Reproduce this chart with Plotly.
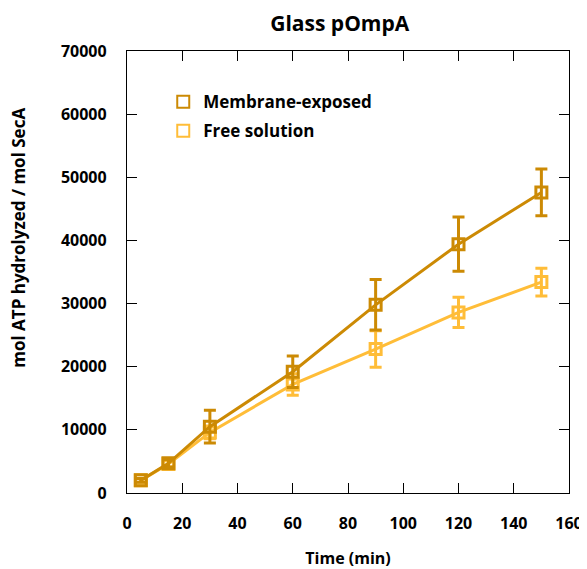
import plotly.graph_objects as go

time_min = [5, 15, 30, 60, 90, 120, 150]
membrane = [2000, 4700, 10500, 19200, 29800, 39400, 47600]
membrane_err = [300, 600, 2600, 2500, 4000, 4300, 3700]
free = [2000, 4600, 9600, 17200, 22800, 28600, 33400]
free_err = [300, 500, 1000, 1700, 2900, 2400, 2200]

c_mem = "#CC8A04"
c_free = "#FFBD38"
font = "Open Sans"

fig = go.Figure()
for name, y, e, c in [("Free solution", free, free_err, c_free),
                      ("Membrane-exposed", membrane, membrane_err, c_mem)]:
    fig.add_trace(go.Scatter(
        x=time_min, y=y, mode="lines+markers", name=name, showlegend=False,
        line=dict(color=c, width=3),
        marker=dict(symbol="square-open", size=11, color=c, line=dict(width=3)),
        error_y=dict(type="data", array=e, color=c, thickness=3, width=6),
    ))
for i, (name, c) in enumerate([("Membrane-exposed", c_mem), ("Free solution", c_free)]):
    fig.add_trace(go.Scatter(
        x=[None], y=[None], mode="markers", name=name, legendgroup=f"g{i}",
        marker=dict(symbol="square-open", size=11, color=c, line=dict(width=3)),
    ))

axis_common = dict(showline=True, linecolor="black", linewidth=1.3, mirror="ticks",
                   ticks="inside", ticklen=10, tickwidth=1.3, tickcolor="black",
                   showgrid=False, zeroline=False, automargin=False,
                   tickformat="d",
                   tickfont=dict(family=font, size=16, color="black", weight="bold"))

fig.update_layout(
    width=579, height=561,
    margin=dict(l=119, r=18, t=43, b=76),
    paper_bgcolor="white", plot_bgcolor="white",
    title=dict(text="<b>Glass pOmpA</b>", x=0.573, xanchor="center", y=0.972, yanchor="middle",
               font=dict(family=font, size=21, color="black")),
    xaxis=dict(range=[0, 160], dtick=20, ticklabelstandoff=16,
               title=dict(text="<b>Time (min)</b>", standoff=25,
                          font=dict(family=font, size=16, color="black")),
               **axis_common),
    yaxis=dict(range=[0, 70000], dtick=10000, ticklabelstandoff=16, **axis_common),
    annotations=[dict(text="<b>mol ATP hydrolyzed / mol SecA</b>", xref="paper", yref="paper",
                      x=-0.2443, y=0.5776, xanchor="center", yanchor="middle",
                      textangle=-90, showarrow=False,
                      font=dict(family=font, size=17, color="black"))],
    legend=dict(x=0.082, y=0.925, xanchor="left", yanchor="top", bgcolor="rgba(0,0,0,0)",
                font=dict(family=font, size=17, color="black", weight="bold"),
                itemsizing="constant", tracegroupgap=4),
    showlegend=True,
)

fig.write_html("out.html")
